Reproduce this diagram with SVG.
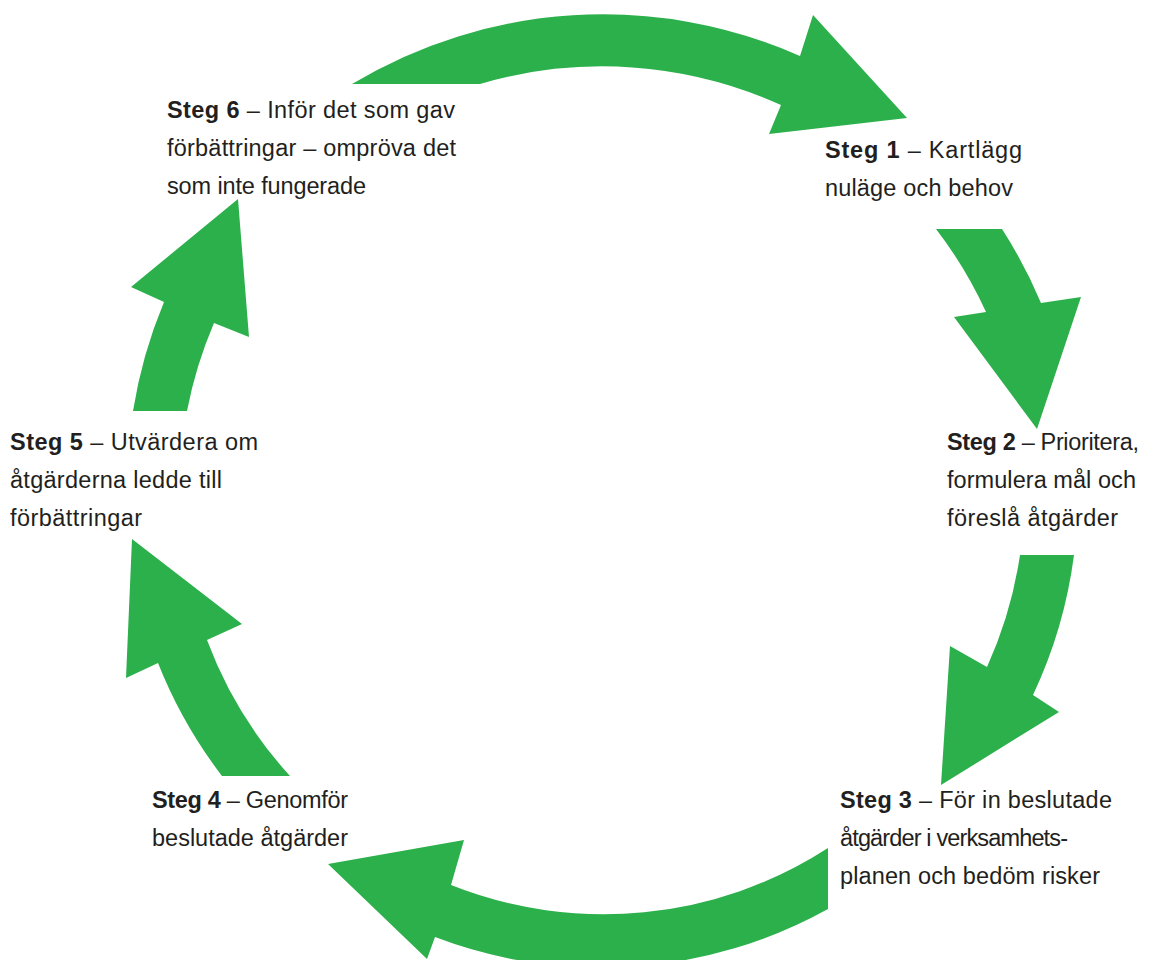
<svg xmlns="http://www.w3.org/2000/svg" width="1168" height="960" viewBox="0 0 1168 960">
<style>
.bg{fill:#ffffff}
.arrow{fill:#2cb04b;stroke:none}
.lbl{font-family:"Liberation Sans",Arial,sans-serif;font-size:23.5px;fill:#231f20}
.b{font-weight:bold}
</style>
<rect class="bg" x="0" y="0" width="1168" height="960"/>
<g id="connectors">
<path id="arrow-6-1" class="arrow" d="M 480 84 L 352 84 A 487 487 0 0 1 800 56 L 813 15 L 907 118 L 769 134 L 781 105 A 433 433 0 0 0 480 84 Z"/>
<path id="arrow-1-2" class="arrow" d="M 936 229 L 1002 229 A 479 479 0 0 1 1041 303 L 1081 297 L 1037 429 L 954 317 L 986 312 A 427 427 0 0 0 936 229 Z"/>
<path id="arrow-2-3" class="arrow" d="M 1020 555 L 1074 555 A 470 470 0 0 1 1033 695 L 1059 712 L 941 785 L 950 646 L 987 667 A 419 419 0 0 0 1020 555 Z"/>
<path id="arrow-3-4" class="arrow" d="M 828 848 L 828 909 A 467 467 0 0 1 435 937 L 427 959 L 328 864 L 464 840 L 451 885 A 413 413 0 0 0 828 848 Z"/>
<path id="arrow-4-5" class="arrow" d="M 290 776 L 222 776 A 472 472 0 0 1 158 663 L 126 678 L 132 539 L 242 624 L 207 640 A 420 420 0 0 0 290 776 Z"/>
<path id="arrow-5-6" class="arrow" d="M 187 411 L 133 411 A 480 480 0 0 1 164 302 L 131 287 L 238 199 L 249 337 L 214 323 A 428 428 0 0 0 187 411 Z"/>
</g>
<g id="steg1">
<text class="lbl" x="825" y="158" textLength="197" lengthAdjust="spacing"><tspan class="b">Steg 1</tspan> – Kartlägg</text>
<text class="lbl" x="825" y="196" textLength="188" lengthAdjust="spacing">nuläge och behov</text>
</g>
<g id="steg2">
<text class="lbl" x="947" y="450" textLength="192" lengthAdjust="spacing"><tspan class="b">Steg 2</tspan> – Prioritera,</text>
<text class="lbl" x="947" y="488" textLength="189" lengthAdjust="spacing">formulera mål och</text>
<text class="lbl" x="947" y="526" textLength="171" lengthAdjust="spacing">föreslå åtgärder</text>
</g>
<g id="steg3">
<text class="lbl" x="840" y="808" textLength="272" lengthAdjust="spacing"><tspan class="b">Steg 3</tspan> – För in beslutade</text>
<text class="lbl" x="840" y="846" textLength="228" lengthAdjust="spacing">åtgärder i verksamhets-</text>
<text class="lbl" x="840" y="884" textLength="260" lengthAdjust="spacing">planen och bedöm risker</text>
</g>
<g id="steg4">
<text class="lbl" x="152" y="808" textLength="196" lengthAdjust="spacing"><tspan class="b">Steg 4</tspan> – Genomför</text>
<text class="lbl" x="152" y="846" textLength="196" lengthAdjust="spacing">beslutade åtgärder</text>
</g>
<g id="steg5">
<text class="lbl" x="10" y="450" textLength="248" lengthAdjust="spacing"><tspan class="b">Steg 5</tspan> – Utvärdera om</text>
<text class="lbl" x="10" y="488" textLength="212" lengthAdjust="spacing">åtgärderna ledde till</text>
<text class="lbl" x="10" y="526" textLength="132" lengthAdjust="spacing">förbättringar</text>
</g>
<g id="steg6">
<text class="lbl" x="167" y="118" textLength="288" lengthAdjust="spacing"><tspan class="b">Steg 6</tspan> – Inför det som gav</text>
<text class="lbl" x="167" y="156" textLength="289" lengthAdjust="spacing">förbättringar – ompröva det</text>
<text class="lbl" x="167" y="194" textLength="199" lengthAdjust="spacing">som inte fungerade</text>
</g>
</svg>
